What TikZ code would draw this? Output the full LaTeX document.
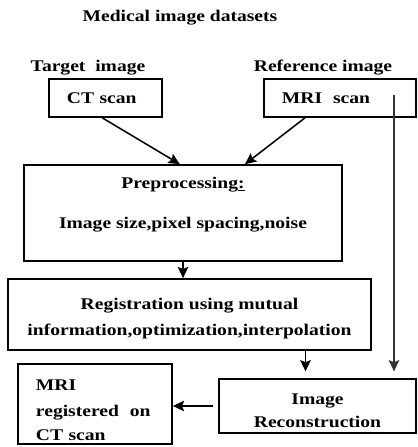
\documentclass[tikz,border=0pt]{standalone}
\usepackage{fontspec}
\setmainfont{Liberation Serif}[FakeStretch=1.2]
\usepackage{tikz}
\usetikzlibrary{arrows,arrows.meta,positioning}

\begin{document}
\begin{tikzpicture}[
x=0.025cm, y=-0.025cm,
font=\bfseries\fontsize{11.6}{18.5}\selectfont,
box/.style={draw,line width=1.2pt,inner sep=0pt},
leftbox/.style={box,align=left,inner xsep=0.45cm},
flow/.style={-{Stealth[length=8pt,width=7.5pt,inset=1.5pt]},line width=1.1pt},
scale=1]
    \useasboundingbox (0,0) rectangle (417,447);

    % Titles
    \node (title) at (180,18) {Medical image datasets};
    \node (target) at (88,68) {Target\ \ image};
    \node (reference) at (323,68) {Reference image};

    % Boxes
    \node[leftbox, text width=1.925cm, minimum height=0.95cm] (ct) at (105.5,98) {CT scan};
    \node[leftbox, text width=2.9cm, minimum height=0.95cm] (mri) at (340,98) {MRI\ \ scan};
    \node[box, align=center, minimum width=7.95cm, minimum height=2.4cm] (pre) at (183,213)
        {Preprocessing\underline{:}\\[10.5pt]Image size,pixel spacing,noise\\[-4pt]\mbox{}};
    \node[box, align=center, minimum width=9.075cm, minimum height=1.775cm] (reg) at (189.5,314.5)
        {\mbox{}\\[-4.5pt]Registration using mutual\\[-0.5pt]information,optimization,interpolation};
    \node[box, align=center, minimum width=4.925cm, minimum height=1.35cm] (recon) at (317.5,406)
        {\mbox{}\\[-4.5pt]Image\\[-2pt]Reconstruction};
    \node[leftbox, text width=2.95cm, minimum height=2cm] (result) at (95,404)
        {\mbox{}\\[-2pt]MRI\\registered\ \ on\\[-1pt]CT scan};

    \coordinate (mriline) at (394,95);

    % Arrows
    \draw[flow] ([xshift=-0.08cm]ct.south) -- ([xshift=-0.08cm]pre.north);
    \draw[flow] ([xshift=-0.875cm]mri.south) -- ([xshift=1.55cm]pre.north);
    \draw[flow] (pre.south) -- (pre.south |- reg.north);
    \draw[flow,shorten >=0.17cm] ([xshift=-0.3cm]recon.north |- reg.south) -- ([xshift=-0.3cm]recon.north);
    \draw[flow,line width=0.8pt,black!80,shorten >=0.17cm] (mriline) -- (mriline |- recon.north);
    \draw[flow,shorten <=0.12cm] (recon.west) -- (recon.west -| result.east);

\end{tikzpicture}
\end{document}
